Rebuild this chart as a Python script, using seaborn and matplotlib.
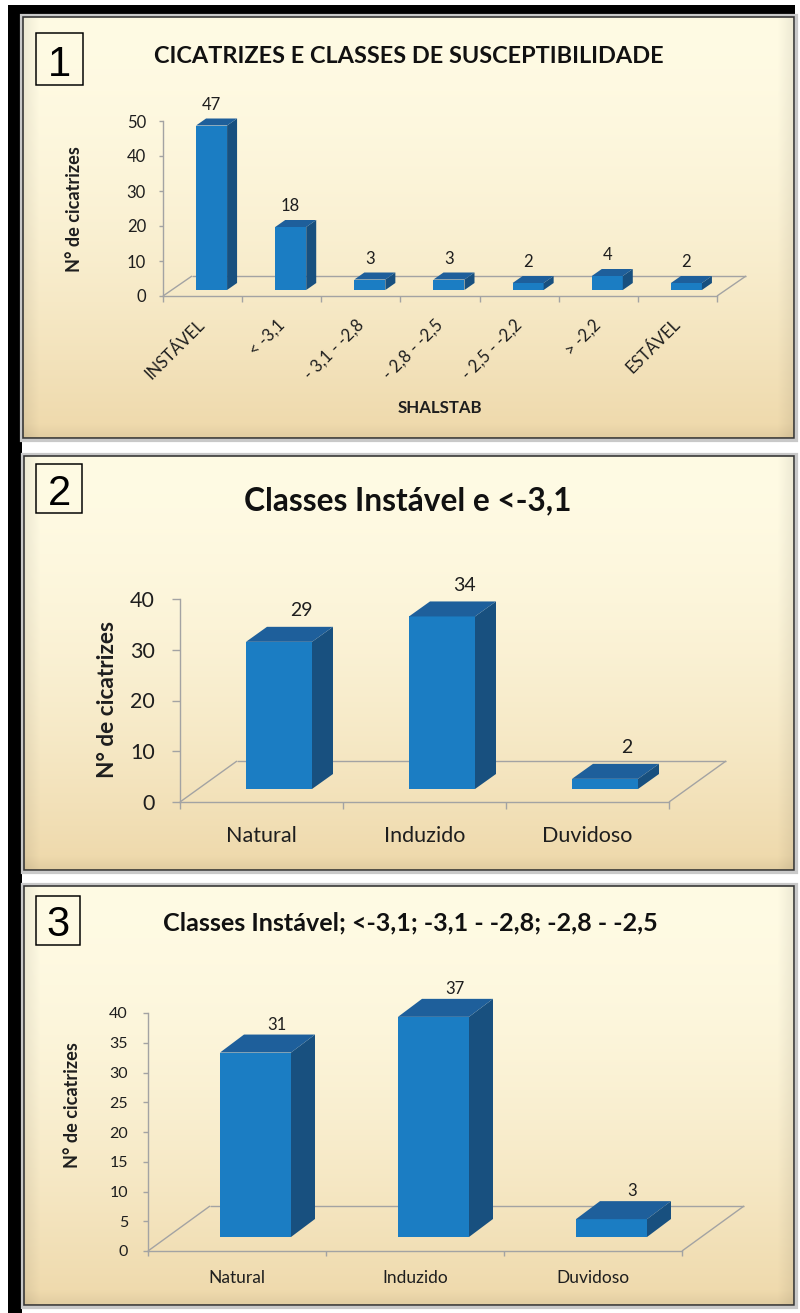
import numpy as np
import pandas as pd
import matplotlib
matplotlib.use("Agg")
import matplotlib.pyplot as plt
import seaborn as sns
from matplotlib.patches import Rectangle, Polygon

# ---------------- data ----------------
cats1 = ["INSTÁVEL", "< -3,1", "- 3,1 - -2,8", "- 2,8 - -2,5", "- 2,5 - -2,2", "> -2,2", "ESTÁVEL"]
vals1 = [47, 18, 3, 3, 2, 4, 2]
yticks1 = [0, 10, 20, 30, 40, 50]

cats2 = ["Natural", "Induzido", "Duvidoso"]
vals2 = [29, 34, 2]
yticks2 = [0, 10, 20, 30, 40]

cats3 = ["Natural", "Induzido", "Duvidoso"]
vals3 = [31, 37, 3]
yticks3 = [0, 5, 10, 15, 20, 25, 30, 35, 40]

title1 = "CICATRIZES E CLASSES DE SUSCEPTIBILIDADE"
title2 = "Classes Instável e <-3,1"
title3 = "Classes Instável; <-3,1; -3,1 - -2,8; -2,8 - -2,5"
ylabel_txt = "N° de cicatrizes"
xlabel1 = "SHALSTAB"
numbers = ["1", "2", "3"]

# ---------------- style ----------------
W, H, DPI = 800, 1313, 100
PT = 72.0 / DPI  # px -> pt
FRONT = "#1b7dc3"
SIDE = "#18507f"
TOP = "#1e5f9b"
GRID = "#a3a3a3"
TXT = "#1e1e1e"

sns.set_theme(style="white")
plt.rcParams["font.family"] = ["Lato", "DejaVu Sans"]

fig = plt.figure(figsize=(W / DPI, H / DPI), dpi=DPI, facecolor="white")
bg = fig.add_axes([0, 0, 1, 1], zorder=0)
bg.axis("off")

# black frame (top + left)
bg.add_patch(Rectangle((8, 5), 787, 11, fc="black", ec="none", zorder=1))
bg.add_patch(Rectangle((8, 5), 14, H, fc="black", ec="none", zorder=1))

panels = [(23, 17, 794, 438), (24, 456, 794, 870), (24, 886, 794, 1305)]


def panel_bg(x0, y0, x1, y1):
    h = int(y1 - y0)
    w = int(x1 - x0)
    t = np.linspace(0, 1, h)[:, None, None]
    top = np.array([255, 251, 228]) / 255.0
    bot = np.array([238, 216, 170]) / 255.0
    f = t ** 1.7
    img = top * (1 - f) + bot * f
    img = np.repeat(img, w, axis=1)
    u = np.arange(w)[None, :]
    d = np.minimum(u, w - 1 - u)
    edge = np.clip(1 - d / 16.0, 0, 1)[..., None]
    v = np.arange(h)[:, None]
    dv = np.clip(1 - (h - 1 - v) / 14.0, 0, 1)[..., None]
    img = img * (1 - 0.07 * edge) * (1 - 0.05 * dv)
    bg.imshow(np.clip(img, 0, 1), extent=(x0, x1, y1, y0), origin="upper",
              aspect="auto", zorder=2, interpolation="bilinear")
    bg.add_patch(Rectangle((x0 - 2, y0 - 2), x1 - x0 + 4, y1 - y0 + 4, fill=False,
                           ec="#c9c9c9", lw=3.2 * PT, zorder=3))
    bg.add_patch(Rectangle((x0, y0), x1 - x0, y1 - y0, fill=False,
                           ec="#333333", lw=1.6 * PT, zorder=4))


for p in panels:
    panel_bg(*p)
bg.set_xlim(0, W)
bg.set_ylim(H, 0)

renderer = fig.canvas.get_renderer()


def fit(t, target, use_height=False):
    fs = t.get_fontsize()
    bb = t.get_window_extent(renderer)
    cur = bb.height if use_height else bb.width
    t.set_fontsize(fs * target / cur)
    return t


# number boxes
boxes = [(36, 33, 83, 85, 76), (36, 464, 82, 513, 505), (36, 896, 80, 945, 936)]
for (bx0, by0, bx1, by1, base), num in zip(boxes, numbers):
    bg.add_patch(Rectangle((bx0, by0), bx1 - bx0, by1 - by0, fill=False,
                           ec="black", lw=1.5 * PT, zorder=5))
    bg.text((bx0 + bx1) / 2, base, num, ha="center", va="baseline",
            fontsize=30, family=["Liberation Sans", "DejaVu Sans"], color="black", zorder=6)

# titles
for (s, xc, base, wpx) in [(title1, 409, 63, 512), (title2, 408, 510, 330), (title3, 410, 930, 495)]:
    t = bg.text(xc, base, s, ha="center", va="baseline", fontsize=14,
                fontweight="bold", color="#111111", zorder=6)
    fit(t, wpx)


def make_axes(x0, x1, y0, y1):
    return fig.add_axes([x0 / W, 1 - y0 / H, (x1 - x0) / W, (y0 - y1) / H], zorder=5)


def draw_chart(cats, vals, ymax, yticks, g):
    x0, x1, y0, y1 = g["box"]
    ax = make_axes(x0, x1, y0, y1)
    n = len(cats)
    cat_px = (x1 - x0) / n
    ppu = (y0 - y1) / ymax

    def DX(px):
        return px / cat_px

    def DY(px):
        return px / ppu

    df = pd.DataFrame({"cat": cats, "val": vals})
    sns.barplot(data=df, x="cat", y="val", order=cats, ax=ax, color=FRONT,
                saturation=1, width=g["bw"] / cat_px, errorbar=None,
                linewidth=0, zorder=3)
    ax.set_xlim(-0.5, n - 0.5)
    ax.set_ylim(0, ymax)
    ax.set_facecolor("none")

    # floor of the 3D plot
    fdx, fdy = DX(g["fd"][0]), DY(g["fd"][1])
    kw = dict(color=GRID, lw=1.0, clip_on=False, zorder=1, solid_capstyle="butt")
    ax.plot([-0.5, -0.5 + fdx], [0, fdy], **kw)
    ax.plot([-0.5 + fdx, n - 0.5 + fdx], [fdy, fdy], **kw)
    ax.plot([n - 0.5, n - 0.5 + fdx], [0, fdy], **kw)

    bars = list(ax.patches)
    sdx, sdy = DX(g["sd"][0]), DY(g["sd"][1])
    for bar, v in zip(bars, vals):
        bar.set_x(bar.get_x() + DX(g["bd"][0]))
        bar.set_y(DY(g["bd"][1]))
        bar.set_clip_on(False)
        xl = bar.get_x()
        xr = xl + bar.get_width()
        yb = bar.get_y()
        yt = yb + bar.get_height()
        ax.add_patch(Polygon([(xr, yb), (xr + sdx, yb + sdy), (xr + sdx, yt + sdy), (xr, yt)],
                             closed=True, fc=SIDE, ec="none", zorder=3, clip_on=False))
        ax.add_patch(Polygon([(xl, yt), (xl + sdx, yt + sdy), (xr + sdx, yt + sdy), (xr, yt)],
                             closed=True, fc=TOP, ec="none", zorder=3, clip_on=False))
        xc = (xl + xr) / 2
        ax.text(xc + DX(g["ld"][0]), yt + sdy + DY(g["ld"][1]), str(v), ha="center",
                va="center", fontsize=g["fs_lab"], color=TXT, clip_on=False, zorder=4)

    for s in ["top", "right"]:
        ax.spines[s].set_visible(False)
    for s in ["left", "bottom"]:
        ax.spines[s].set_color(GRID)
        ax.spines[s].set_linewidth(1.0)
    ax.set_yticks(yticks)
    ax.set_xticks(range(n))
    ax.set_xticklabels(cats)
    ax.set_xticks(np.arange(n + 1) - 0.5, minor=True)
    ax.tick_params(axis="y", which="major", left=True, direction="out",
                   length=g["ytl"] * PT, width=1.0, color=GRID, pad=g["ypad"] * PT,
                   labelsize=g["fs_y"], labelcolor=TXT)
    ax.tick_params(axis="x", which="major", bottom=True, length=0,
                   pad=g["xpad"] * PT, labelsize=g["fs_x"], labelcolor=TXT)
    ax.tick_params(axis="x", which="minor", bottom=True, direction="out",
                   length=g["xtl"] * PT, width=1.0, color=GRID)
    if g.get("rot"):
        for lab in ax.get_xticklabels():
            lab.set_rotation(45)
            lab.set_ha("right")
            lab.set_va("center")
            lab.set_rotation_mode("anchor")

    ax.set_xlabel("")
    yl = ax.set_ylabel(ylabel_txt, fontweight="bold", color=TXT, fontsize=12, va="center")
    ax.yaxis.set_label_coords(g["yl"][0], g["yl"][1], transform=bg.transData)
    fit(yl, g["yl"][2], use_height=True)
    if g.get("xl"):
        xl_ = ax.set_xlabel(g["xl"][3], fontweight="bold", color=TXT, fontsize=12, va="center")
        ax.xaxis.set_label_coords(g["xl"][0], g["xl"][1], transform=bg.transData)
        fit(xl_, g["xl"][2])
    return ax


g1 = dict(box=(163, 717, 296, 121), fd=(29, 20), bd=(9, 6), bw=31, sd=(10, 7), ld=(0, 14),
          fs_lab=12, fs_y=12, fs_x=12, ytl=4, ypad=13, xtl=6, xpad=26, rot=True,
          yl=(75, 209, 125), xl=(440, 408, 84, xlabel1))
g2 = dict(box=(180, 669, 802, 599), fd=(57, 41), bd=(17.5, 13), bw=66, sd=(21, 15), ld=(22, 16),
          fs_lab=14, fs_y=15.5, fs_x=15.5, ytl=8, ypad=17, xtl=7, xpad=24,
          yl=(107, 700, 156))
g3 = dict(box=(148, 682, 1251, 1013), fd=(62, 45), bd=(18.5, 14), bw=71, sd=(24, 18), ld=(21, 10),
          fs_lab=12, fs_y=11.5, fs_x=12.5, ytl=5, ypad=15, xtl=5, xpad=19,
          yl=(72, 1105, 125))

draw_chart(cats1, vals1, 50, yticks1, g1)
draw_chart(cats2, vals2, 40, yticks2, g2)
draw_chart(cats3, vals3, 40, yticks3, g3)

fig.savefig("out.png", dpi=DPI, facecolor=fig.get_facecolor())
